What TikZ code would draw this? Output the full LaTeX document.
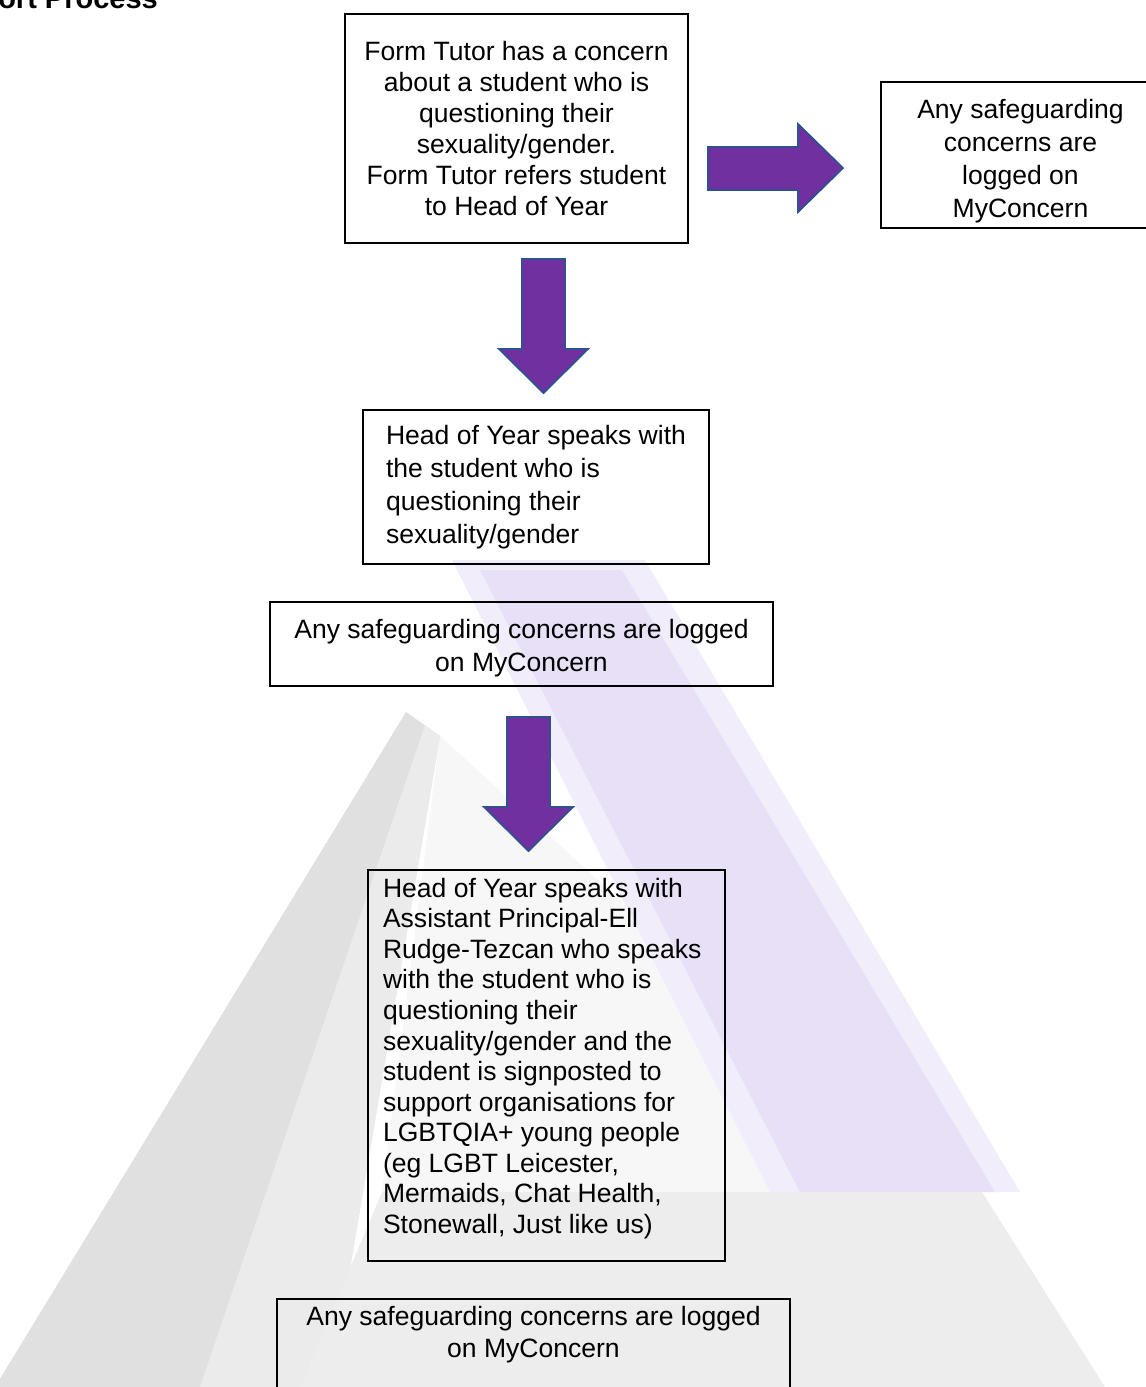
\documentclass[tikz,border=0pt]{standalone}
\usepackage{fontspec}
\setmainfont{Liberation Sans}
\usetikzlibrary{positioning}
\definecolor{arrowfill}{HTML}{7030A0}
\definecolor{arrowedge}{HTML}{2F528F}
\definecolor{marklilac}{HTML}{E2D8F4}

\begin{document}
\begin{tikzpicture}[x=0.02cm, y=-0.02cm,
	flowbox/.style={draw, line width=0.8pt, inner sep=0pt, align=center,
		font=\fontsize{15.1pt}{17.6pt}\selectfont},
	wideleading/.style={font=\fontsize{15.1pt}{18.8pt}\selectfont},
	blockarrow/.style={fill=arrowfill, draw=arrowedge, line width=1pt, line join=miter}]
	
	\useasboundingbox (0,0) rectangle (1146,1387);
	
	% Faded logo behind the chart
	\fill[gray!6] (440,736) -- (620,900) -- (790,1192) -- (382,1192) -- cycle;
	\fill[gray!24] (406,712) -- (440,736) -- (330,1387) -- (-5,1387) -- cycle;
	\fill[gray!16] (425,725) -- (440,736) -- (330,1387) -- (200,1387) -- cycle;
	\fill[marklilac!45] (452,560) -- (645,560) -- (1020,1192) -- (770,1192) -- cycle;
	\fill[marklilac!80] (480,570) -- (622,570) -- (995,1192) -- (800,1192) -- cycle;
	\fill[gray!14] (382,1192) -- (982,1192) -- (1105,1387) -- (300,1387) -- cycle;
	
	% Heading (cut off by the page)
	\node[anchor=base east, font=\fontsize{16.5pt}{19pt}\selectfont\bfseries] (title) at (164,8) {ort Process};
	
	% Boxes
	\node[flowbox, minimum width=6.86cm, minimum height=4.58cm] (tutor) at (516.5,128.5)
	{Form Tutor has a concern\\ about a student who is\\ questioning their\\ sexuality/gender.\\ Form Tutor refers student\\ to Head of Year};
	
	\node[flowbox, minimum width=5.58cm, minimum height=2.92cm] (logA) at (1020.5,155)
	{\parbox[c][2.22cm][t]{5.4cm}{\fontsize{15.1pt}{18.8pt}\selectfont\centering
			Any safeguarding\\ concerns are\\ logged on\\ MyConcern}};
	
	\node[flowbox, wideleading, align=left, minimum width=6.92cm, minimum height=3.08cm] (hoy) at (536,487)
	{Head of Year speaks with\\ the student who is\\ questioning their\\ sexuality/gender};
	
	\node[flowbox, minimum width=10.06cm, minimum height=1.68cm] (logB) at (521.5,644)
	{\parbox[c][0.98cm][t]{10cm}{\fontsize{15.1pt}{18.8pt}\selectfont\centering
			Any safeguarding concerns are logged\\ on MyConcern}};
	
	\node[flowbox, minimum width=7.14cm, minimum height=7.82cm] (ap) at (546.5,1065.5)
	{\parbox[c][7.5cm][t]{6.54cm}{\fontsize{15.1pt}{17.4pt}\selectfont\raggedright
			Head of Year speaks with\\ Assistant Principal-Ell\\ Rudge-Tezcan who speaks\\ with the student who is\\ questioning their\\ sexuality/gender and the\\ student is signposted to\\ support organisations for\\ LGBTQIA+ young people\\ (eg LGBT Leicester,\\ Mermaids, Chat Health,\\ Stonewall, Just like us)}};
	
	\node[flowbox, minimum width=10.26cm, minimum height=3cm] (logC) at (533.5,1374)
	{\parbox[c][2.7cm][t]{10cm}{\fontsize{15.1pt}{18.2pt}\selectfont\centering
			Any safeguarding concerns are logged\\ on MyConcern}};
	
	% Block arrows
	\draw[blockarrow] (708,147) -- (798,147) -- (798,124) -- (843,168) -- (798,212) -- (798,190) -- (708,190) -- cycle;
	\foreach \ax/\ay in {543.5/259, 528.5/717}
	\draw[blockarrow] (\ax-21.5,\ay) -- ++(43,0) -- ++(0,90) -- ++(23,0) -- ++(-44.5,44) -- ++(-44.5,-44) -- ++(23,0) -- cycle;
	
\end{tikzpicture}
\end{document}
